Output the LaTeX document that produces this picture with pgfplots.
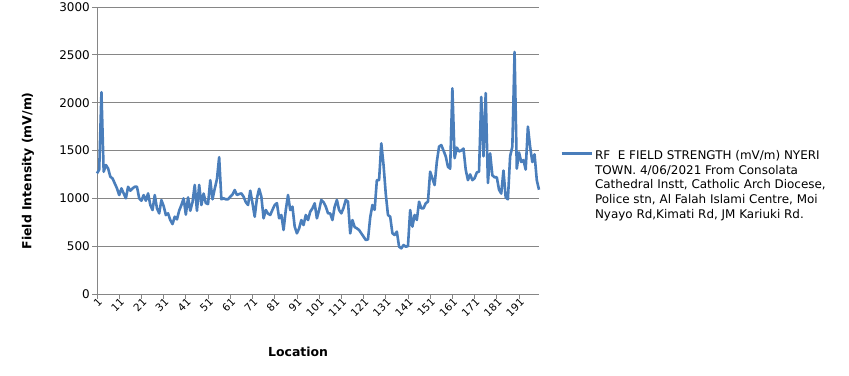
\documentclass[border=0pt]{standalone}
\usepackage{pgfplots}
\pgfplotsset{compat=1.18}
\usepackage{fontspec}
\setmainfont{DejaVu Sans}
\definecolor{excelblue}{RGB}{74,126,187}
\definecolor{gridgray}{RGB}{134,134,134}
\begin{document}
\begin{tikzpicture}
\path[use as bounding box] (0,0) rectangle (849bp,376bp);
\begin{axis}[
  at={(97bp,82bp)}, anchor=south west,
  scale only axis, width=442bp, height=287bp,
  xmin=1, xmax=200, ymin=0, ymax=3000,
  axis x line*=bottom, axis y line*=left,
  axis line style={gridgray, line width=0.8pt, -},
  xtick={1,11,...,191},
  ytick={0,500,...,3000},
  ymajorgrids, grid style={gridgray, line width=0.8pt},
  tick style={gridgray, line width=0.8pt},
  major tick length=5bp,
  tick align=outside,
  /pgf/number format/assume math mode=true,
  /pgf/number format/1000 sep={},
  yticklabel style={font=\fontsize{12}{14}\selectfont, inner sep=2bp},
  xticklabel style={font=\fontsize{10.5}{12}\selectfont, rotate=45, anchor=east, inner sep=0.5bp, xshift=2bp, yshift=-3bp},
  xlabel={\textbf{Location}},
  ylabel={\textbf{Field Intensity (mV/m)}},
  label style={font=\fontsize{12.5}{14}\selectfont},
  xlabel style={at={(axis description cs:0.455,-0.202)}, anchor=center},
  ylabel style={at={(axis description cs:-0.156,0.429)}, anchor=center},
  legend style={draw=none, fill=none, at={(1.048,0.51)}, anchor=north west,
    inner sep=0pt, font=\fontsize{12}{15}\selectfont,
    cells={anchor=north west, align=left}},
  legend image code/.code={\draw[#1, line width=2.6bp] (0bp,-5.5bp) -- (30bp,-5.5bp);},
  clip=false,
]
\addplot[excelblue, line width=2.6bp, line join=round] coordinates {
(1,1261) (2,1300) (3,2110) (4,1278) (5,1348) (6,1313) (7,1226) (8,1208) (9,1156) (10,1104)
(11,1034) (12,1104) (13,1052) (14,1000) (15,1121) (16,1080) (17,1104) (18,1121) (19,1121) (20,1000)
(21,975) (22,1034) (23,975) (24,1052) (25,930) (26,878) (27,1034) (28,895) (29,843) (30,982)
(31,920) (32,825) (33,843) (34,773) (35,731) (36,808) (37,780) (38,871) (39,930) (40,1000)
(41,830) (42,1010) (43,870) (44,960) (45,1140) (46,870) (47,1140) (48,930) (49,1050) (50,950)
(51,940) (52,1190) (53,990) (54,1100) (55,1200) (56,1430) (57,990) (58,1000) (59,990) (60,990)
(61,1017) (62,1040) (63,1087) (64,1035) (65,1045) (66,1052) (67,1017) (68,960) (69,930) (70,1080)
(71,950) (72,808) (73,1000) (74,1100) (75,1017) (76,791) (77,878) (78,840) (79,826) (80,880)
(81,930) (82,950) (83,791) (84,826) (85,669) (86,878) (87,1035) (88,878) (89,913) (90,704)
(91,634) (92,686) (93,773) (94,721) (95,826) (96,773) (97,860) (98,895) (99,948) (100,791)
(101,878) (102,983) (103,960) (104,913) (105,843) (106,843) (107,773) (108,913) (109,983) (110,878)
(111,843) (112,900) (113,983) (114,965) (115,634) (116,773) (117,700) (118,686) (119,669) (120,634)
(121,600) (122,565) (123,570) (124,800) (125,930) (126,880) (127,1190) (128,1190) (129,1575) (130,1350)
(131,1050) (132,826) (133,808) (134,634) (135,617) (136,652) (137,495) (138,477) (139,512) (140,495)
(141,500) (142,878) (143,704) (144,826) (145,774) (146,965) (147,896) (148,896) (149,948) (150,965)
(151,1279) (152,1209) (153,1139) (154,1383) (155,1540) (156,1557) (157,1500) (158,1440) (159,1330) (160,1310)
(161,2150) (162,1420) (163,1530) (164,1490) (165,1500) (166,1520) (167,1300) (168,1190) (169,1250) (170,1190)
(171,1210) (172,1270) (173,1280) (174,2060) (175,1440) (176,2100) (177,1160) (178,1470) (179,1240) (180,1220)
(181,1220) (182,1090) (183,1050) (184,1290) (185,1010) (186,990) (187,1440) (188,1540) (189,2530) (190,1310)
(191,1480) (192,1380) (193,1400) (194,1300) (195,1750) (196,1540) (197,1380) (198,1460) (199,1190) (200,1090)
};
\addlegendentry{RF\ \ E FIELD STRENGTH (mV/m) NYERI\\TOWN. 4/06/2021 From Consolata\\Cathedral Instt, Catholic Arch Diocese,\\Police stn, Al Falah Islami Centre, Moi\\Nyayo Rd,Kimati Rd, JM Kariuki Rd.}
\end{axis}
\end{tikzpicture}
\end{document}
